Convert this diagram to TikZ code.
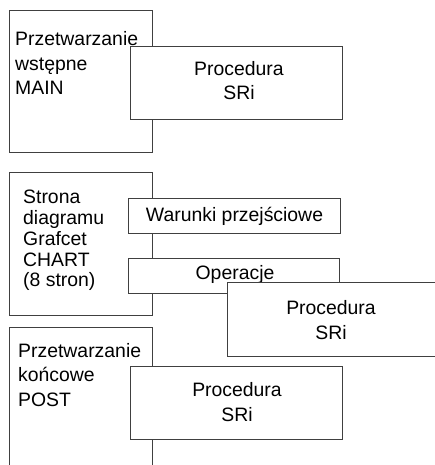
\documentclass[tikz,border=0pt]{standalone}
\usepackage{fontspec}
\setmainfont{Liberation Sans}
\begin{document}
\begin{tikzpicture}[x=1pt, y=-1pt,
  box/.style={draw=black!75, line width=0.8pt, fill=white},
  label/.style={inner sep=0pt, font=\fontsize{19.4}{24.5}\selectfont},
  tight/.style={inner sep=0pt, font=\fontsize{19.4}{20.8}\selectfont}]
\useasboundingbox (0,0) rectangle (434,465);

% Przetwarzanie wstepne
\draw[box] (9,10) rectangle (152,152);
\node[label, anchor=north west, align=left] (maintxt) at (15,31.5) {Przetwarzanie\\wstępne\\MAIN};
\draw[box] (130,46) rectangle (342,119);
\node[label, align=center] (mainproc) at (239,80.5) {Procedura\\SRi};

% Strona diagramu Grafcet
\draw[box] (9,172) rectangle (152,315);
\node[tight, anchor=north west, align=left] (charttxt) at (23,190) {Strona\\diagramu\\Grafcet\\CHART\\(8 stron)};
\draw[box] (128,198) rectangle (340,233);
\node[label, anchor=base] (warunki) at (234.5,221) {Warunki przejściowe};
\draw[box] (128,258) rectangle (339,293);
\node[label, anchor=base] (operacje) at (235,279.5) {Operacje};
\draw[box] (227,282) rectangle (440,356);
\node[label, align=center] (chartproc) at (331,320) {Procedura\\SRi};

% Przetwarzanie koncowe
\draw[box] (9,327) rectangle (152,475);
\node[label, anchor=north west, align=left] (posttxt) at (18,343) {Przetwarzanie\\końcowe\\POST};
\draw[box] (130,366) rectangle (342,439);
\node[label, align=center] (postproc) at (237,402) {Procedura\\SRi};
\end{tikzpicture}
\end{document}
